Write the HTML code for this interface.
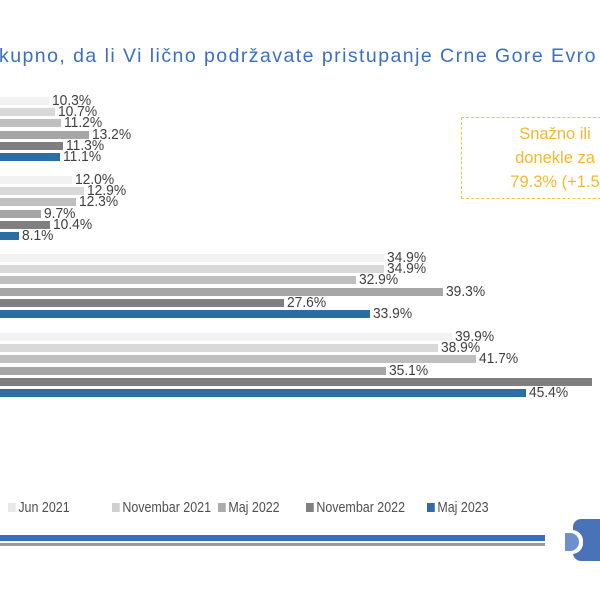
<!DOCTYPE html>
<html><head><meta charset="utf-8"><style>
body{margin:0;width:600px;height:600px;background:#fff;overflow:hidden;position:relative;font-family:"Liberation Sans",sans-serif}
.b{position:absolute;left:0;height:8px}
.l{position:absolute;font-size:15px;color:#404040;line-height:14px;transform:scaleX(0.92);transform-origin:left}
.t{position:absolute;left:-1px;top:45px;font-size:19.5px;color:#3a6fc4;white-space:nowrap;letter-spacing:1.45px}
.lg{position:absolute;top:500px;font-size:14.5px;color:#505050;white-space:nowrap;transform:scaleX(0.86);transform-origin:left}
.lg i{display:inline-block;width:9px;height:9px;margin-right:3px;vertical-align:0}
</style></head><body>
<div class="t">kupno, da li Vi lično podržavate pristupanje Crne Gore Evro</div>
<div style="position:absolute;left:461px;top:117px;width:150px;height:82px;border:1.5px dashed #f5c242;box-sizing:border-box"></div>
<div style="position:absolute;left:480px;top:122px;width:150px;color:#f2b92e;font-size:16.5px;line-height:24px;text-align:center;white-space:nowrap">Snažno ili<br>donekle za<br>79.3% (+1.5</div>
<div id="c"></div>
<div class="lg" style="left:8px"><i style="background:#e8e8e8"></i>Jun 2021</div>
<div class="lg" style="left:112px"><i style="background:#cfcfcf"></i>Novembar 2021</div>
<div class="lg" style="left:218px"><i style="background:#ababab"></i>Maj 2022</div>
<div class="lg" style="left:306px"><i style="background:#7f7f7f"></i>Novembar 2022</div>
<div class="lg" style="left:427px"><i style="background:#2e6da4"></i>Maj 2023</div>
<div style="position:absolute;left:0;top:535px;width:545px;height:6px;background:#3b6cc0"></div>
<div style="position:absolute;left:0;top:543px;width:545px;height:3px;background:#9a9a9a"></div>
<div style="position:absolute;left:573px;top:519px;width:40px;height:42px;background:#4a72b8;border-radius:8px 0 0 8px"></div>
<div style="position:absolute;left:565px;top:530px;width:18px;height:24px;background:#fff;border-radius:0 11px 11px 0"></div>
<div style="position:absolute;left:565px;top:533px;width:14px;height:18px;background:#6f8fcc;border-radius:0 9px 9px 0"></div>
<script>
var cols=["#f2f2f2","#d9d9d9","#bfbfbf","#a6a6a6","#7f7f7f","#2e6da4"];
var g=[[10.3,10.7,11.2,13.2,11.3,11.1],[12.0,12.9,12.3,9.7,10.4,8.1],[34.9,34.9,32.9,39.3,27.6,33.9],[39.9,38.9,41.7,35.1,50.2,45.4]];
var tops=[97,176,254,333];var h="";
g.forEach(function(a,gi){a.forEach(function(v,i){var y=tops[gi]+i*11.2;var w=-91+v*13.6;
h+='<div class="b" style="top:'+y+'px;width:'+w+'px;background:'+cols[i]+'"></div>';
if(!(gi==3&&i==4))h+='<div class="l" style="top:'+(y-3)+'px;left:'+(w+3)+'px">'+v.toFixed(1)+'%</div>';});});
document.getElementById("c").innerHTML=h;
</script>
</body></html>
